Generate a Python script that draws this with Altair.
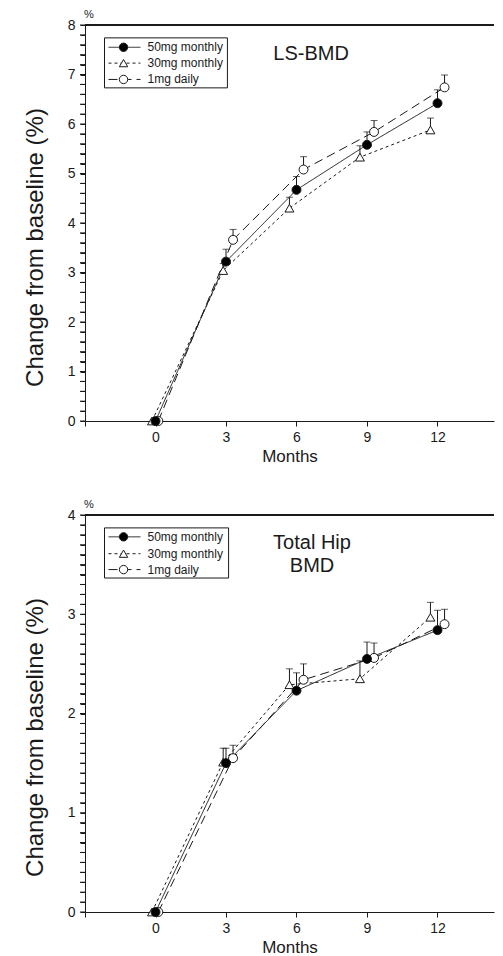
import altair as alt
import pandas as pd

FONT = "Liberation Sans"
INK = "#1a1a1a"

series = ["30mg monthly", "1mg daily", "50mg monthly"]  # drawing order
legend_order = ["50mg monthly", "30mg monthly", "1mg daily"]

# x positions (groups slightly offset around each visit month)
x_pos = {
    "50mg monthly": [0.0, 3.0, 6.0, 9.0, 12.0],
    "30mg monthly": [-0.15, 2.88, 5.7, 8.7, 11.7],
    "1mg daily": [0.12, 3.3, 6.3, 9.3, 12.3],
}

# LS-BMD: mean % change and upper error-bar end
ls_mean = {
    "50mg monthly": [0.0, 3.22, 4.67, 5.58, 6.42],
    "30mg monthly": [0.0, 3.04, 4.30, 5.33, 5.88],
    "1mg daily": [0.0, 3.66, 5.08, 5.84, 6.74],
}
ls_hi = {
    "50mg monthly": [None, 3.47, 4.94, 5.84, 6.69],
    "30mg monthly": [None, 3.18, 4.52, 5.56, 6.12],
    "1mg daily": [None, 3.87, 5.34, 6.07, 6.99],
}

# Total hip BMD
hip_mean = {
    "50mg monthly": [0.0, 1.50, 2.23, 2.55, 2.84],
    "30mg monthly": [0.0, 1.51, 2.29, 2.35, 2.97],
    "1mg daily": [0.0, 1.55, 2.34, 2.56, 2.90],
}
hip_hi = {
    "50mg monthly": [None, 1.65, 2.41, 2.72, 3.04],
    "30mg monthly": [None, 1.65, 2.45, 2.53, 3.12],
    "1mg daily": [None, 1.68, 2.50, 2.71, 3.05],
}

x_ticks = [-3, 0, 3, 6, 9, 12]
W = 409
X_DOMAIN = [-3, -3 + W / 23.5]

dash_scale = alt.Scale(domain=legend_order, range=[[1, 0], [3, 3], [9, 5]])
shape_scale = alt.Scale(domain=legend_order, range=["circle", "triangle-up", "circle"])
fill_scale = alt.Scale(domain=legend_order, range=["black", "white", "white"])


def make_panel(mean, hi, ymax, ystep, title_lines, title_x, title_ys,
               box, row_ys, height):
    pts = []
    errs = []
    for s in series:
        for i in range(len(x_pos[s])):
            pts.append({"series": s, "x": x_pos[s][i], "y": mean[s][i]})
            if hi[s][i] is not None:
                errs.append({"series": s, "x": x_pos[s][i], "y": mean[s][i], "hi": hi[s][i]})
    pts = pd.DataFrame(pts)
    errs = pd.DataFrame(errs)

    xscale = alt.Scale(domain=X_DOMAIN, nice=False, zero=False)
    yscale = alt.Scale(domain=[0, ymax], nice=False, zero=True)
    yvals = [round(i * ystep, 2) for i in range(int(round(ymax / ystep)) + 1)]

    xaxis = alt.Axis(values=x_ticks, labelExpr="datum.value < 0 ? '' : datum.label",
                     title="Months", grid=False, tickSize=5, labelFontSize=14,
                     titleFontSize=17, titleFontWeight="normal", labelPadding=4,
                     titlePadding=4, labelFlush=False, labelOverlap=False)
    yaxis = alt.Axis(values=yvals,
                     labelExpr="datum.value % 1 == 0 ? format(datum.value, 'd') : ''",
                     title="Change from baseline (%)", grid=False, tickSize=5,
                     labelFontSize=14, titleFontSize=24, titleFontWeight="normal",
                     labelPadding=5, titlePadding=20, titleY=222, labelOverlap=False,
                     labelFlush=False)

    def X(f):
        return alt.X(f, scale=xscale, axis=xaxis)

    def Y(f):
        return alt.Y(f, scale=yscale, axis=yaxis)

    lines = alt.Chart(pts).mark_line(color=INK, strokeWidth=1).encode(
        x=X("x:Q"), y=Y("y:Q"),
        strokeDash=alt.StrokeDash("series:N", scale=dash_scale, legend=None),
        detail="series:N",
    )
    err_rule = alt.Chart(errs).mark_rule(color=INK, strokeWidth=1).encode(
        x=X("x:Q"), y=Y("y:Q"), y2="hi:Q")
    err_cap = alt.Chart(errs).mark_tick(color=INK, orient="horizontal", size=7,
                                        thickness=1).encode(
        x=X("x:Q"), y=Y("hi:Q"))
    points = alt.Chart(pts).mark_point(stroke=INK, strokeWidth=1, opacity=1,
                                       filled=False, size=80).encode(
        x=X("x:Q"), y=Y("y:Q"),
        shape=alt.Shape("series:N", scale=shape_scale, legend=None),
        fill=alt.Fill("series:N", scale=fill_scale, legend=None),
    )
    top_line = alt.Chart(pts).mark_rule(color=INK, strokeWidth=1).encode(
        y=alt.datum(ymax, scale=yscale, axis=yaxis))

    # minor ticks of the y axis
    tk = pd.DataFrame({"v": yvals})
    minor = alt.Chart(tk).mark_rule(color=INK, strokeWidth=1).encode(
        x=alt.value(-5), x2=alt.value(0), y=Y("v:Q"))

    # "%" unit mark above the y axis
    pct = alt.Chart(pd.DataFrame({"t": ["%"]})).mark_text(
        fontSize=11, font=FONT, color=INK, align="left", baseline="alphabetic",
        dx=-1).encode(x=alt.value(0), y=alt.value(-7), text="t:N")

    # panel title
    tdf = pd.DataFrame({"t": title_lines, "x": [title_x] * len(title_lines), "y": title_ys})
    title = alt.Chart(tdf).mark_text(fontSize=20, font=FONT, color=INK,
                                     align="center", baseline="middle").encode(
        x=X("x:Q"), y=Y("y:Q"), text="t:N")

    # legend (drawn in data coordinates)
    bdf = pd.DataFrame([{"x1": box[0], "x2": box[1], "y1": box[2], "y2": box[3]}])
    lbox = alt.Chart(bdf).mark_rect(fill="white", stroke=INK, strokeWidth=1).encode(
        x=X("x1:Q"), x2="x2:Q", y=Y("y1:Q"), y2="y2:Q")
    ldf = pd.DataFrame({
        "series": legend_order,
        "ly": row_ys,
        "lx1": [box[0] + 0.17] * 3,
        "lx2": [box[0] + 1.53] * 3,
        "sx": [box[0] + 0.81] * 3,
        "tx": [box[0] + 1.83] * 3,
    })
    lline = alt.Chart(ldf).mark_rule(color=INK, strokeWidth=1).encode(
        x=X("lx1:Q"), x2="lx2:Q", y=Y("ly:Q"),
        strokeDash=alt.StrokeDash("series:N", scale=dash_scale, legend=None))
    lsym = alt.Chart(ldf).mark_point(stroke=INK, strokeWidth=1, opacity=1,
                                     filled=False, size=70).encode(
        x=X("sx:Q"), y=Y("ly:Q"),
        shape=alt.Shape("series:N", scale=shape_scale, legend=None),
        fill=alt.Fill("series:N", scale=fill_scale, legend=None))
    ltext = alt.Chart(ldf).mark_text(fontSize=12, font=FONT, color=INK, align="left",
                                     baseline="middle").encode(
        x=X("tx:Q"), y=Y("ly:Q"), text="series:N")

    return alt.layer(lines, top_line, minor, pct, err_rule, err_cap, points, title,
                     lbox, lline, lsym, ltext).properties(width=W, height=height)


top = make_panel(ls_mean, ls_hi, 8, 0.2, ["LS-BMD"], 6.62, [7.42],
                 [-2.17, 3.06, 7.74, 6.73], [7.55, 7.23, 6.90], 396)
bottom = make_panel(hip_mean, hip_hi, 4, 0.1, ["Total Hip", "BMD"], 6.66, [3.72, 3.49],
                    [-2.17, 3.11, 3.87, 3.365], [3.78, 3.61, 3.45], 397)

chart = alt.vconcat(top, bottom, spacing=35).properties(
    padding={"left": 15, "top": 1, "right": 0, "bottom": 0},
    background="white",
).configure_view(stroke=None).configure_axis(
    labelFont=FONT, titleFont=FONT, domainColor=INK, tickColor=INK,
    labelColor=INK, titleColor=INK, domainWidth=1, tickWidth=1,
)

chart.save("out.html", embed_options={"renderer": "svg", "actions": False})
